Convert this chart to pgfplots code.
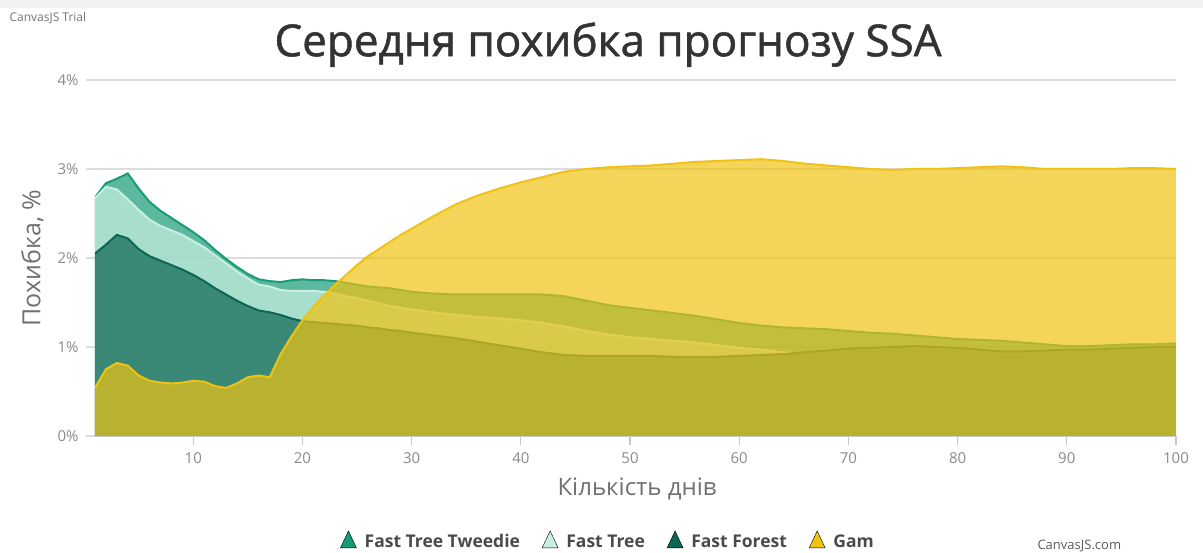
\documentclass[border=0pt]{standalone}
\usepackage{fontspec}
\setmainfont{Open Sans}
\newfontfamily\titlefont{Open Sans}[FakeBold=1.2]
\usepackage{pgfplots}
\pgfplotsset{compat=1.18}
\usepackage{pgfplotstable}

\definecolor{twc}{HTML}{179B76}
\definecolor{ftc}{HTML}{C8EFDF}
\definecolor{ffc}{HTML}{0C6652}
\definecolor{gamc}{HTML}{EFC213}
\definecolor{gridc}{HTML}{DCDCDC}
\definecolor{tickc}{HTML}{8A8A8A}
\definecolor{labc}{HTML}{707070}
\definecolor{titc}{HTML}{333333}
\definecolor{legc}{HTML}{4A4A4A}

% x  tweedie  fasttree  fastforest  gam
\pgfplotstableread{
x tw ft ff gam
1 2.68 2.67 2.05 0.54
2 2.84 2.80 2.15 0.75
3 2.89 2.77 2.26 0.82
4 2.95 2.66 2.22 0.79
5 2.78 2.54 2.10 0.68
6 2.63 2.43 2.02 0.62
7 2.53 2.36 1.97 0.60
8 2.45 2.31 1.92 0.59
9 2.37 2.26 1.87 0.60
10 2.29 2.19 1.81 0.62
11 2.20 2.12 1.74 0.61
12 2.09 2.03 1.66 0.56
13 1.99 1.94 1.59 0.54
14 1.90 1.85 1.52 0.59
15 1.82 1.77 1.46 0.66
16 1.76 1.70 1.41 0.68
17 1.74 1.68 1.39 0.66
18 1.73 1.64 1.36 0.92
19 1.75 1.63 1.32 1.12
20 1.76 1.63 1.29 1.30
21 1.75 1.63 1.28 1.45
22 1.75 1.62 1.27 1.58
23 1.74 1.60 1.26 1.70
24 1.72 1.57 1.25 1.81
25 1.70 1.55 1.24 1.92
26 1.68 1.52 1.22 2.02
27 1.67 1.49 1.21 2.10
28 1.66 1.46 1.19 2.18
29 1.64 1.44 1.18 2.26
30 1.62 1.42 1.16 2.33
32 1.60 1.39 1.13 2.47
34 1.59 1.36 1.10 2.60
36 1.59 1.34 1.06 2.70
38 1.59 1.32 1.02 2.78
40 1.59 1.30 0.98 2.85
42 1.59 1.27 0.94 2.91
44 1.57 1.23 0.91 2.97
46 1.52 1.18 0.90 3.00
48 1.47 1.14 0.90 3.02
50 1.44 1.11 0.90 3.03
52 1.41 1.09 0.90 3.04
54 1.38 1.07 0.89 3.06
56 1.35 1.05 0.89 3.08
58 1.31 1.02 0.89 3.09
60 1.27 0.99 0.90 3.10
62 1.24 0.97 0.91 3.11
64 1.22 0.94 0.92 3.09
66 1.21 0.93 0.94 3.06
68 1.20 0.94 0.96 3.04
70 1.18 0.96 0.98 3.02
72 1.16 0.97 0.99 3.00
74 1.15 0.98 1.00 2.99
76 1.13 0.99 1.01 3.00
78 1.11 0.98 1.00 3.00
80 1.09 0.97 0.99 3.01
82 1.08 0.95 0.97 3.02
84 1.07 0.93 0.95 3.03
86 1.05 0.93 0.95 3.02
88 1.03 0.94 0.96 3.00
90 1.01 0.95 0.97 3.00
92 1.01 0.95 0.97 3.00
94 1.02 0.96 0.98 3.00
96 1.03 0.97 0.99 3.01
98 1.03 0.98 1.00 3.01
100 1.04 0.98 1.00 3.00
}\datatable

\pgfplotsset{
  tri legend/.style={legend image code/.code={
    \fill[##1] (0pt,-6pt) -- (16pt,-6pt) -- (8pt,11pt) -- cycle;
    \path (22pt,0pt);}},
}

\begin{document}
\begin{tikzpicture}
\path[use as bounding box] (0,0) rectangle (1203pt,553pt);
\fill[black!5] (0,545pt) rectangle (1203pt,553pt);
\begin{axis}[
  at={(95pt,117pt)}, anchor=south west,
  scale only axis, width=1081pt, height=356pt,
  xmin=1, xmax=100, ymin=0, ymax=4,
  xtick={10,20,...,100}, ytick={0,1,2,3,4},
  yticklabel={\pgfmathprintnumber{\tick}\%},
  /pgf/number format/assume math mode=true,
  axis x line*=bottom, axis y line*=left,
  y axis line style={draw=none},
  x axis line style={draw=black!22, line width=1.5pt},
  tick align=outside, major tick length=9pt,
  xtick style={draw=black!22, line width=1.2pt},
  ytick style={draw=gridc, line width=1.5pt},
  ymajorgrids, major grid style={draw=gridc, line width=1.5pt},
  tick label style={font=\fontsize{15}{15}\selectfont, text=tickc},
  xticklabel style={yshift=-4pt},
  yticklabel style={xshift=-4pt},
  title={Середня похибка прогнозу SSA},
  title style={at={(0.4746,1.05)}, anchor=base, font=\titlefont\fontsize{44}{44}\selectfont, text=titc},
  xlabel={Кількість днів},
  xlabel style={at={(0.5014,-0.1685)}, anchor=base, font=\fontsize{24}{24}\selectfont, text=labc},
  ylabel={Похибка, \%},
  ylabel style={at={(-0.058,0.5)}, anchor=center, font=\fontsize{25}{25}\selectfont, text=labc},
  legend style={at={(0.4746,-0.295)}, anchor=center, draw=none, fill=none,
    font=\bfseries\fontsize{17.5}{17.5}\selectfont, text=legc,
    /tikz/every even column/.append style={column sep=20pt}},
  legend columns=-1,
]
% Fast Tree Tweedie
\addplot[fill=twc, fill opacity=0.7, draw=none, forget plot] table[x=x,y=tw]{\datatable} \closedcycle;
\addplot[draw=twc, line width=2pt, forget plot] table[x=x,y=tw]{\datatable};
% Fast Tree
\addplot[fill=ftc, fill opacity=0.7, draw=none, forget plot] table[x=x,y=ft]{\datatable} \closedcycle;
\addplot[draw=ftc, line width=2pt, forget plot] table[x=x,y=ft]{\datatable};
% Fast Forest
\addplot[fill=ffc, fill opacity=0.7, draw=none, forget plot] table[x=x,y=ff]{\datatable} \closedcycle;
\addplot[draw=ffc, line width=2pt, forget plot] table[x=x,y=ff]{\datatable};
% Gam
\addplot[fill=gamc, fill opacity=0.7, draw=none, forget plot] table[x=x,y=gam]{\datatable} \closedcycle;
\addplot[draw=gamc, line width=2pt, forget plot] table[x=x,y=gam]{\datatable};

\addlegendimage{tri legend, fill=twc}
\addlegendentry{Fast Tree Tweedie}
\addlegendimage{tri legend, fill=ftc}
\addlegendentry{Fast Tree}
\addlegendimage{tri legend, fill=ffc}
\addlegendentry{Fast Forest}
\addlegendimage{tri legend, fill=gamc}
\addlegendentry{Gam}
\end{axis}
\node[anchor=west, font=\fontsize{12}{12}\selectfont, text=black!55] at (6pt,535pt) {CanvasJS Trial};
\node[anchor=west, font=\fontsize{13}{13}\selectfont, text=black!65] at (1034pt,7pt) {CanvasJS.com};
\end{tikzpicture}
\end{document}
